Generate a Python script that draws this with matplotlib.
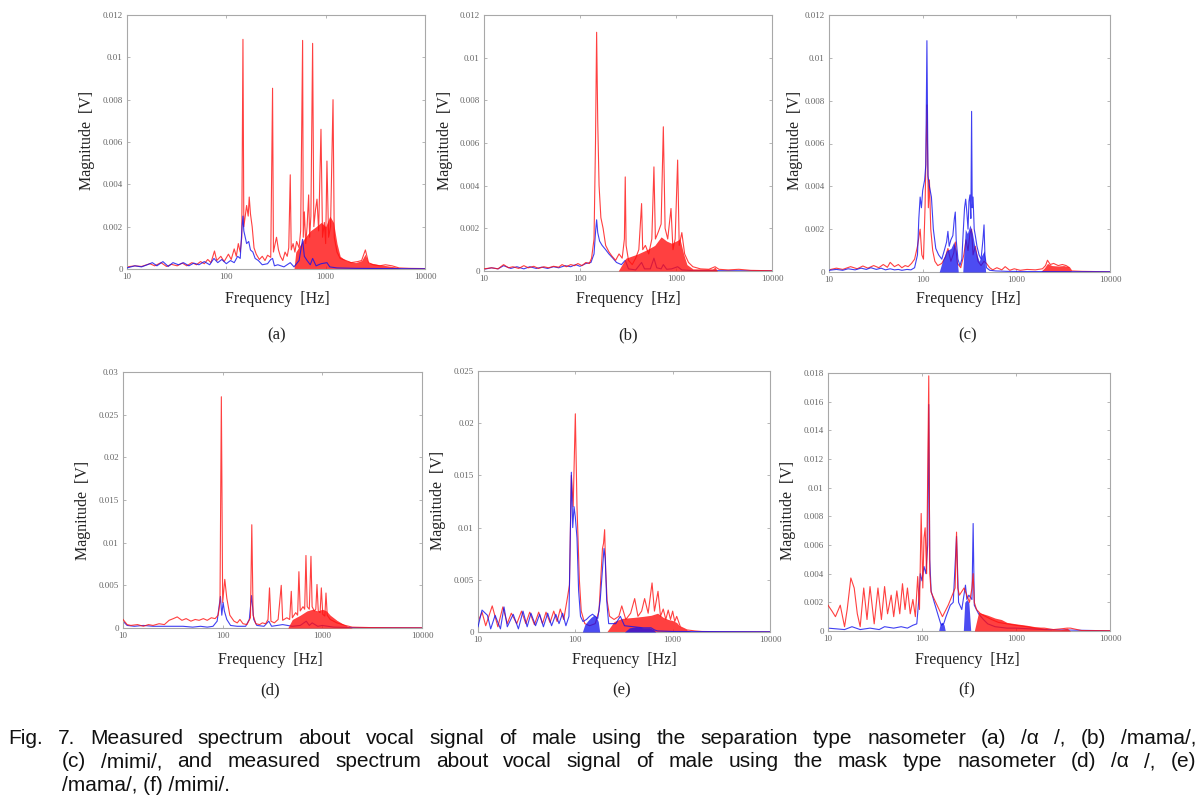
import matplotlib
matplotlib.use("Agg")
import matplotlib.pyplot as plt
from matplotlib.font_manager import FontProperties
from matplotlib.ticker import FixedLocator, FixedFormatter

# ---------------- DATA ----------------
# Panel (a)
a_red_f = [10, 12, 14, 17, 19, 22, 25, 28, 32, 36, 40, 45, 50, 55, 60, 65, 70, 76, 80, 88, 95, 105, 112, 120, 126, 132, 138, 143,
           147, 150, 155, 160, 166, 170, 175, 182, 190, 200, 215, 230, 245, 260, 280, 292, 298, 310, 320, 335, 350, 370, 390, 410,
           425, 440, 450, 470, 490, 510, 540, 560, 586, 595, 610, 630, 650, 674, 690, 710, 739, 760, 790, 818, 850, 897, 930, 970,
           1000, 1030, 1070, 1120, 1186, 1220, 1300, 1400, 1600, 1800, 2100, 2300, 2510, 2700, 3000, 3500, 4000, 4660, 5500, 7000, 10000]
a_red_m = [0.00010, 0.00015, 0.00012, 0.00025, 0.00015, 0.00030, 0.00012, 0.00022, 0.00015, 0.00028, 0.00015, 0.00030, 0.00020,
           0.00035, 0.00025, 0.00045, 0.00030, 0.00085, 0.00040, 0.00060, 0.00035, 0.00070, 0.00045, 0.00095, 0.00060, 0.00120,
           0.00080, 0.00150, 0.01085, 0.00200, 0.00250, 0.00300, 0.00250, 0.00340, 0.00260, 0.00200, 0.00100, 0.00070, 0.00045,
           0.00060, 0.00040, 0.00065, 0.00055, 0.00854, 0.00080, 0.00120, 0.00150, 0.00090, 0.00060, 0.00040, 0.00080, 0.00060,
           0.00100, 0.00445, 0.00090, 0.00120, 0.00080, 0.00130, 0.00100, 0.00180, 0.01080, 0.00150, 0.00270, 0.00120, 0.00200,
           0.00350, 0.00150, 0.00250, 0.01066, 0.00200, 0.00280, 0.00330, 0.00180, 0.00660, 0.00150, 0.00220, 0.00120, 0.00510,
           0.00150, 0.00200, 0.00800, 0.00150, 0.00080, 0.00050, 0.00040, 0.00030, 0.00035, 0.00040, 0.00090, 0.00030, 0.00020,
           0.00015, 0.00020, 0.00015, 0.00005, 0.00003, 0.00002]
a_red_band_f = [480, 500, 600, 700, 800, 900, 1000, 1100, 1200, 1300, 1400, 1600, 2000, 2300, 2500, 2700, 3500, 5000, 6000]
a_red_band_m = [0.0, 0.0008, 0.0014, 0.0018, 0.0020, 0.0022, 0.0020, 0.0025, 0.0022, 0.0012, 0.0006, 0.0004, 0.0003, 0.0004,
                0.0007, 0.0003, 0.0002, 0.0001, 0.0]
a_blue_f = [10, 12, 14, 16, 18, 20, 23, 26, 29, 33, 37, 42, 47, 53, 60, 68, 75, 82, 90, 100, 110, 120, 130, 138, 144, 147, 150,
            155, 160, 168, 175, 185, 195, 210, 230, 260, 280, 292, 305, 330, 380, 440, 480, 540, 586, 610, 650, 700, 739, 800,
            900, 1030, 1100, 1300, 2000, 10000]
a_blue_m = [0.00005, 0.00015, 0.00010, 0.00020, 0.00030, 0.00015, 0.00035, 0.00012, 0.00030, 0.00020, 0.00030, 0.00015, 0.00028,
            0.00020, 0.00035, 0.00020, 0.00050, 0.00030, 0.00045, 0.00025, 0.00040, 0.00030, 0.00060, 0.00050, 0.00200, 0.00250,
            0.00180, 0.00150, 0.00120, 0.00130, 0.00090, 0.00080, 0.00050, 0.00040, 0.00020, 0.00025, 0.00045, 0.00050, 0.00015,
            0.00020, 0.00010, 0.00030, 0.00010, 0.00040, 0.00140, 0.00060, 0.00040, 0.00020, 0.00050, 0.00015, 0.00025, 0.00030,
            0.00010, 0.00005, 0.00003, 0.00001]
a_blue_band_f = []
a_blue_band_m = []

# Panel (b)
b_red_f = [10, 12, 14, 16, 18, 20, 23, 26, 29, 33, 37, 42, 47, 53, 60, 65, 72, 80, 88, 95, 105, 115, 125, 132, 140, 145, 149,
           153, 158, 165, 174, 185, 200, 215, 235, 255, 275, 290, 296, 302, 320, 350, 380, 410, 438, 450, 480, 520, 560, 589,
           610, 650, 700, 738, 770, 820, 887, 930, 980, 1040, 1080, 1150, 1230, 1350, 1500, 1800, 2200, 2550, 2800, 3500, 4500,
           6000, 10000]
b_red_m = [0.00010, 0.00015, 0.00010, 0.00030, 0.00015, 0.00020, 0.00012, 0.00025, 0.00015, 0.00022, 0.00012, 0.00020, 0.00015,
           0.00022, 0.00018, 0.00030, 0.00020, 0.00030, 0.00025, 0.00035, 0.00025, 0.00040, 0.00035, 0.00060, 0.00150, 0.00600,
           0.01119, 0.00700, 0.00400, 0.00250, 0.00200, 0.00120, 0.00090, 0.00070, 0.00050, 0.00080, 0.00060, 0.00150, 0.00441,
           0.00120, 0.00050, 0.00030, 0.00060, 0.00100, 0.00316, 0.00100, 0.00120, 0.00080, 0.00150, 0.00488, 0.00150, 0.00180,
           0.00220, 0.00676, 0.00200, 0.00150, 0.00293, 0.00100, 0.00150, 0.00520, 0.00120, 0.00180, 0.00080, 0.00040, 0.00020,
           0.00010, 0.00008, 0.00020, 0.00008, 0.00005, 0.00008, 0.00003, 0.00001]
b_red_band_f = [250, 300, 400, 500, 600, 700, 800, 900, 1000, 1100, 1200, 1300, 1500, 2400, 2550, 2700]
b_red_band_m = [0.0, 0.0006, 0.0008, 0.0010, 0.0012, 0.0016, 0.0014, 0.0013, 0.0014, 0.0015, 0.0008, 0.0003, 0.0001, 0.0001,
                0.00018, 0.0]
b_blue_f = [10, 12, 14, 16, 19, 22, 26, 30, 35, 40, 46, 53, 60, 70, 80, 90, 100, 115, 130, 140, 145, 149, 153, 160, 170, 185,
            200, 220, 240, 270, 296, 320, 380, 438, 470, 540, 589, 630, 700, 738, 800, 900, 1040, 1150, 1500, 10000]
b_blue_m = [0.00008, 0.00015, 0.00010, 0.00025, 0.00012, 0.00020, 0.00010, 0.00020, 0.00012, 0.00018, 0.00012, 0.00020, 0.00015,
            0.00025, 0.00020, 0.00030, 0.00022, 0.00035, 0.00040, 0.00080, 0.00180, 0.00240, 0.00180, 0.00140, 0.00120, 0.00100,
            0.00080, 0.00060, 0.00040, 0.00030, 0.00050, 0.00010, 0.00005, 0.00040, 0.00010, 0.00010, 0.00060, 0.00015, 0.00010,
            0.00030, 0.00008, 0.00010, 0.00020, 0.00005, 0.00002, 0.00001]
b_blue_band_f = []
b_blue_band_m = []

# Panel (c)
c_red_f = [10, 12, 14, 17, 20, 23, 26, 30, 34, 38, 42, 45, 50, 55, 60, 65, 70, 76, 82, 88, 94, 98, 102, 106, 111, 115, 118, 122,
           128, 135, 145, 160, 175, 186, 200, 215, 223, 235, 255, 275, 290, 305, 320, 333, 345, 365, 390, 420, 452, 480, 520, 560,
           620, 700, 760, 850, 950, 1100, 1300, 1600, 1900, 2050, 2150, 2300, 2500, 2800, 3100, 3400, 3700, 3900, 5000, 10000]
c_red_m = [0.00010, 0.00018, 0.00012, 0.00025, 0.00015, 0.00028, 0.00018, 0.00030, 0.00020, 0.00035, 0.00022, 0.00045, 0.00025,
           0.00035, 0.00020, 0.00030, 0.00025, 0.00040, 0.00060, 0.00120, 0.00200, 0.00080, 0.00060, 0.00300, 0.00780, 0.00300,
           0.00430, 0.00200, 0.00100, 0.00050, 0.00030, 0.00040, 0.00070, 0.00110, 0.00050, 0.00090, 0.00140, 0.00040, 0.00020,
           0.00080, 0.00150, 0.00100, 0.00180, 0.00200, 0.00080, 0.00120, 0.00050, 0.00030, 0.00050, 0.00040, 0.00020, 0.00010,
           0.00020, 0.00010, 0.00025, 0.00008, 0.00015, 0.00008, 0.00012, 0.00010, 0.00015, 0.00030, 0.00055, 0.00035, 0.00040,
           0.00030, 0.00035, 0.00030, 0.00020, 0.00005, 0.00003, 0.00001]
c_red_band_f = [1800, 2000, 2150, 2400, 2800, 3200, 3600, 3900]
c_red_band_m = [0.0, 0.00020, 0.00040, 0.00030, 0.00028, 0.00030, 0.00025, 0.0]
c_blue_f = [10, 12, 14, 16, 19, 22, 25, 28, 32, 36, 40, 45, 50, 55, 60, 68, 75, 82, 88, 91, 94, 97, 100, 105, 108, 111, 114, 118,
            124, 130, 138, 148, 160, 170, 180, 186, 192, 200, 210, 218, 223, 228, 238, 250, 262, 272, 280, 288, 296, 305, 312,
            320, 327, 333, 338, 345, 355, 365, 380, 400, 420, 440, 452, 462, 480, 520, 600, 800, 1500, 10000]
c_blue_m = [0.00008, 0.00012, 0.00008, 0.00015, 0.00010, 0.00018, 0.00012, 0.00020, 0.00012, 0.00018, 0.00010, 0.00015, 0.00010,
            0.00012, 0.00008, 0.00012, 0.00010, 0.00020, 0.00080, 0.00250, 0.00350, 0.00300, 0.00380, 0.00430, 0.00500, 0.01080,
            0.00450, 0.00400, 0.00350, 0.00200, 0.00110, 0.00080, 0.00060, 0.00100, 0.00140, 0.00190, 0.00120, 0.00150, 0.00170,
            0.00250, 0.00280, 0.00150, 0.00060, 0.00030, 0.00060, 0.00200, 0.00300, 0.00340, 0.00280, 0.00200, 0.00330, 0.00360,
            0.00250, 0.00750, 0.00300, 0.00350, 0.00200, 0.00170, 0.00120, 0.00080, 0.00060, 0.00150, 0.00220, 0.00080, 0.00020,
            0.00008, 0.00005, 0.00003, 0.00002, 0.00001]
c_blue_band_f = [150, 165, 180, 200, 215, 228, 240, 268, 285, 300, 320, 340, 360, 380, 400, 430, 455, 470]
c_blue_band_m = [0.0, 0.0006, 0.0010, 0.0011, 0.0014, 0.0010, 0.0, 0.0, 0.0020, 0.0018, 0.0022, 0.0018, 0.0012, 0.0008, 0.0005,
                 0.0008, 0.0010, 0.0]

# Panel (d)
d_red_f = [10, 11, 12, 14, 16, 18, 20, 23, 26, 29, 32, 35, 39, 43, 48, 53, 58, 64, 70, 77, 84, 90, 94, 97, 100, 105, 110, 118,
           130, 140, 149, 160, 175, 190, 196, 202, 215, 235, 250, 270, 285, 295, 305, 330, 360, 387, 400, 440, 470, 488, 500,
           540, 565, 582, 600, 640, 665, 685, 705, 740, 769, 790, 830, 860, 884, 910, 950, 977, 1010, 1060, 1088, 1120, 1200,
           1400, 1700, 2000, 3000, 5000, 10000]
d_red_m = [0.0010, 0.0004, 0.0003, 0.0004, 0.0002, 0.0004, 0.0003, 0.0005, 0.0004, 0.0009, 0.0011, 0.0013, 0.0009, 0.0011,
           0.0008, 0.0010, 0.0009, 0.0011, 0.0009, 0.0012, 0.0011, 0.0015, 0.0030, 0.0271, 0.0030, 0.0057, 0.0035, 0.0015,
           0.0008, 0.0006, 0.0010, 0.0005, 0.0004, 0.0012, 0.0121, 0.0015, 0.0005, 0.0004, 0.0006, 0.0005, 0.0010, 0.0047,
           0.0008, 0.0006, 0.0010, 0.0050, 0.0009, 0.0012, 0.0010, 0.0043, 0.0012, 0.0018, 0.0015, 0.0066, 0.0020, 0.0025,
           0.0022, 0.0085, 0.0025, 0.0022, 0.0084, 0.0025, 0.0020, 0.0022, 0.0051, 0.0020, 0.0018, 0.0047, 0.0016, 0.0014,
           0.0041, 0.0015, 0.0010, 0.0006, 0.0003, 0.0001, 0.00005, 0.00003, 0.00002]
d_red_band_f = [450, 500, 600, 700, 800, 900, 1000, 1100, 1200, 1400, 1600, 1800, 2000]
d_red_band_m = [0.0, 0.0010, 0.0015, 0.0020, 0.0022, 0.0020, 0.0022, 0.0020, 0.0015, 0.0009, 0.0005, 0.0002, 0.0]
d_blue_f = [10, 11, 13, 16, 20, 25, 30, 40, 50, 60, 70, 80, 88, 92, 95, 98, 101, 104, 110, 120, 140, 170, 185, 195, 205, 220,
            260, 290, 310, 400, 500, 600, 690, 740, 790, 900, 1000, 1300, 2000, 10000]
d_blue_m = [0.0008, 0.0003, 0.0002, 0.0003, 0.0002, 0.0002, 0.0002, 0.0002, 0.0001, 0.0002, 0.0001, 0.0002, 0.0008, 0.0025,
            0.0037, 0.0015, 0.0030, 0.0020, 0.0010, 0.0003, 0.0002, 0.0002, 0.0010, 0.0038, 0.0010, 0.0003, 0.0002, 0.0008,
            0.0002, 0.0004, 0.0002, 0.0003, 0.0008, 0.0003, 0.0006, 0.0002, 0.0003, 0.0001, 0.00005, 0.00002]
d_blue_band_f = []
d_blue_band_m = []

# Panel (e)
e_red_f = [10, 11, 12, 14, 16, 18, 20, 22, 25, 28, 31, 34, 38, 42, 46, 50, 55, 60, 65, 70, 76, 82, 87, 91, 95, 100, 104, 110,
           115, 125, 140, 160, 175, 183, 190, 195, 200, 205, 212, 225, 250, 280, 300, 330, 370, 407, 440, 480, 515, 560, 614,
           650, 707, 750, 800, 850, 900, 950, 1000, 1050, 1100, 1200, 1400, 1700, 2000, 3000, 10000]
e_red_m = [0.0010, 0.0019, 0.0006, 0.0025, 0.0005, 0.0024, 0.0008, 0.0018, 0.0008, 0.0020, 0.0008, 0.0019, 0.0007, 0.0019,
           0.0008, 0.0019, 0.0009, 0.0020, 0.0010, 0.0022, 0.0012, 0.0030, 0.0045, 0.0150, 0.0120, 0.0209, 0.0120, 0.0050,
           0.0020, 0.0008, 0.0006, 0.0008, 0.0020, 0.0053, 0.0080, 0.0085, 0.0098, 0.0060, 0.0030, 0.0015, 0.0012, 0.0015,
           0.0025, 0.0012, 0.0018, 0.0032, 0.0015, 0.0020, 0.0032, 0.0018, 0.0047, 0.0020, 0.0039, 0.0015, 0.0022, 0.0012,
           0.0021, 0.0012, 0.0020, 0.0010, 0.0015, 0.0005, 0.0002, 0.0001, 0.00005, 0.00003, 0.00002]
e_red_band_f = [210, 250, 300, 400, 500, 600, 700, 800, 900, 1000, 1100, 1200, 1400, 1600]
e_red_band_m = [0.0, 0.0010, 0.0013, 0.0014, 0.0015, 0.0016, 0.0018, 0.0014, 0.0012, 0.0011, 0.0009, 0.0005, 0.0002, 0.0]
e_blue_f = [10, 11, 12.5, 13.5, 15, 17, 18.5, 20, 23, 26, 29, 32, 35, 39, 43, 47, 52, 57, 63, 68, 74, 80, 86, 91, 94, 97, 100,
            104, 108, 113, 120, 130, 140, 150, 160, 170, 180, 190, 197, 203, 210, 220, 260, 290, 320, 400, 500, 600, 650, 700,
            1000, 10000]
e_blue_m = [0.0005, 0.0021, 0.0016, 0.0003, 0.0016, 0.0003, 0.0024, 0.0005, 0.0017, 0.0003, 0.0020, 0.0005, 0.0018, 0.0006,
            0.0017, 0.0005, 0.0018, 0.0006, 0.0017, 0.0008, 0.0018, 0.0006, 0.0015, 0.0153, 0.0100, 0.0120, 0.0110, 0.0090,
            0.0040, 0.0015, 0.0010, 0.0012, 0.0015, 0.0017, 0.0015, 0.0013, 0.0030, 0.0060, 0.0080, 0.0070, 0.0030, 0.0008,
            0.0008, 0.0015, 0.0006, 0.0005, 0.0004, 0.0004, 0.0002, 0.0001, 0.00005, 0.00002]
e_blue_band_f = [118, 125, 135, 145, 155, 165, 172, 178, 320, 360, 420, 500, 580, 640, 670]
e_blue_band_m = [0.0, 0.0007, 0.0011, 0.0014, 0.0016, 0.0014, 0.0010, 0.0, 0.0, 0.0004, 0.0005, 0.0004, 0.0004, 0.0002, 0.0]

# Panel (f)
f_red_f = [10, 11, 12, 13.5, 15, 16, 17.5, 19, 20.5, 22, 24, 26, 28, 31, 34, 37, 40, 43, 47, 50, 54, 58, 62, 66, 70, 75, 80, 85,
           90, 94, 98, 102, 105, 108, 112, 118, 121, 125, 140, 165, 190, 210, 225, 233, 240, 250, 280, 300, 320, 340, 350, 360,
           380, 420, 480, 550, 650, 800, 1000, 1300, 1600, 2000, 2500, 3000, 3500, 3800, 5000, 10000]
f_red_m = [0.0018, 0.0014, 0.0010, 0.0018, 0.0003, 0.0015, 0.0037, 0.0030, 0.0012, 0.0003, 0.0030, 0.0008, 0.0031, 0.0005,
           0.0030, 0.0008, 0.0031, 0.0012, 0.0025, 0.0010, 0.0028, 0.0012, 0.0033, 0.0015, 0.0030, 0.0012, 0.0022, 0.0010,
           0.0038, 0.0015, 0.0082, 0.0030, 0.0065, 0.0072, 0.0040, 0.0178, 0.0040, 0.0027, 0.0020, 0.0010, 0.0018, 0.0025,
           0.0030, 0.0069, 0.0030, 0.0025, 0.0030, 0.0025, 0.0020, 0.0030, 0.0040, 0.0020, 0.0015, 0.0012, 0.0010, 0.0008,
           0.0006, 0.0005, 0.0004, 0.0003, 0.0002, 0.0002, 0.0001, 0.00015, 0.0002, 0.0002, 0.00003, 0.00002]
f_red_band_f = [360, 400, 500, 600, 700, 800, 1000, 1300, 1600, 2000, 2400, 3000, 3500, 3800]
f_red_band_m = [0.0, 0.0013, 0.0011, 0.0009, 0.0008, 0.0006, 0.0005, 0.0004, 0.0003, 0.0002, 0.0001, 0.0001, 0.0002, 0.0]
f_blue_f = [10, 15, 18, 22, 28, 35, 40, 50, 60, 70, 80, 88, 92, 96, 100, 105, 110, 115, 118, 121, 125, 135, 150, 160, 170, 180,
            200, 215, 233, 245, 265, 290, 300, 315, 340, 350, 360, 400, 450, 500, 600, 800, 1000, 2000, 10000]
f_blue_m = [0.0002, 0.0001, 0.0003, 0.0001, 0.0002, 0.0001, 0.0003, 0.0002, 0.0003, 0.0002, 0.0004, 0.0005, 0.0020, 0.0040,
            0.0035, 0.0045, 0.0040, 0.0060, 0.0158, 0.0050, 0.0028, 0.0020, 0.0010, 0.0004, 0.0005, 0.0010, 0.0018, 0.0020,
            0.0066, 0.0020, 0.0015, 0.0032, 0.0022, 0.0025, 0.0022, 0.0075, 0.0018, 0.0012, 0.0008, 0.0005, 0.0003, 0.0002,
            0.0002, 0.0001, 0.00001]
f_blue_band_f = [150, 155, 160, 166, 172, 177, 275, 285, 300, 315, 330]
f_blue_band_m = [0.0, 0.0004, 0.0006, 0.0006, 0.0004, 0.0, 0.0, 0.0020, 0.0022, 0.0020, 0.0]

# Axis settings
top_yticks = [0, 0.002, 0.004, 0.006, 0.008, 0.01, 0.012]
top_ylabels = ["0", "0.002", "0.004", "0.006", "0.008", "0.01", "0.012"]
d_yticks = [0, 0.005, 0.01, 0.015, 0.02, 0.025, 0.03]
d_ylabels = ["0", "0.005", "0.01", "0.015", "0.02", "0.025", "0.03"]
e_yticks = [0, 0.005, 0.01, 0.015, 0.02, 0.025]
e_ylabels = ["0", "0.005", "0.01", "0.015", "0.02", "0.025"]
f_yticks = [0, 0.002, 0.004, 0.006, 0.008, 0.01, 0.012, 0.014, 0.016, 0.018]
f_ylabels = ["0", "0.002", "0.004", "0.006", "0.008", "0.01", "0.012", "0.014", "0.016", "0.018"]
xticks = [10, 100, 1000, 10000]
xticklabels = ["10", "100", "1000", "10000"]
panel_tags = ["(a)", "(b)", "(c)", "(d)", "(e)", "(f)"]
xlabel_text = "Frequency  [Hz]"
ylabel_text = "Magnitude  [V]"
caption_lines = [
    "Fig. 7. Measured spectrum about vocal signal of male using the separation type nasometer (a)  /\u03b1 /, (b) /mama/,",
    "(c) /mimi/, and measured spectrum about vocal signal of male using the mask type nasometer (d) /\u03b1 /, (e)",
    "/mama/, (f) /mimi/.",
]

# ---------------- FIGURE ----------------
W, H = 1204, 809
fig = plt.figure(figsize=(W / 100, H / 100), dpi=100)
fig.patch.set_facecolor("white")

SERIF = ["Liberation Serif", "DejaVu Serif"]
CAP_FP = FontProperties(family=["Liberation Sans", "DejaVu Sans"])

RED = "#ff1010"
BLUE = "#1010ee"


def ax_at(l, t, r, b):
    return fig.add_axes([l / W, 1 - b / H, (r - l) / W, (b - t) / H])


def ftext(x, y, s, **kw):
    return fig.text(x / W, 1 - y / H, s, **kw)


panels = [
    ((127, 15, 425, 269), 0.012, top_yticks, top_ylabels,
     (a_red_f, a_red_m, a_red_band_f, a_red_band_m, a_blue_f, a_blue_m, a_blue_band_f, a_blue_band_m), True,
     (87, 140), (277, 299), (277, 335)),
    ((484, 15, 772, 271), 0.012, top_yticks, top_ylabels,
     (b_red_f, b_red_m, b_red_band_f, b_red_band_m, b_blue_f, b_blue_m, b_blue_band_f, b_blue_band_m), False,
     (445, 140), (628, 299), (628, 335)),
    ((829, 15, 1110, 272), 0.012, top_yticks, top_ylabels,
     (c_red_f, c_red_m, c_red_band_f, c_red_band_m, c_blue_f, c_blue_m, c_blue_band_f, c_blue_band_m), True,
     (795, 140), (968, 299), (968, 335)),
    ((123, 372, 422, 628), 0.03, d_yticks, d_ylabels,
     (d_red_f, d_red_m, d_red_band_f, d_red_band_m, d_blue_f, d_blue_m, d_blue_band_f, d_blue_band_m), False,
     (83, 510), (270, 660), (270, 690)),
    ((478, 371, 770, 632), 0.025, e_yticks, e_ylabels,
     (e_red_f, e_red_m, e_red_band_f, e_red_band_m, e_blue_f, e_blue_m, e_blue_band_f, e_blue_band_m), True,
     (438, 500), (624, 660), (622, 690)),
    ((828, 373, 1110, 631), 0.018, f_yticks, f_ylabels,
     (f_red_f, f_red_m, f_red_band_f, f_red_band_m, f_blue_f, f_blue_m, f_blue_band_f, f_blue_band_m), False,
     (788, 510), (967, 660), (967, 690)),
]

for i, (box, ytop, yt, yl, data, blue_top, ylp, xlp, tagp) in enumerate(panels):
    ax = ax_at(*box)
    rf, rm, rbf, rbm, bf, bm, bbf, bbm = data

    def draw_red(z):
        if rbf:
            ax.fill_between(rbf, 0, rbm, color=RED, alpha=0.8, lw=0, zorder=z)
        ax.plot(rf, rm, color=RED, lw=0.8, alpha=0.8, zorder=z + 0.5)

    def draw_blue(z):
        if bbf:
            ax.fill_between(bbf, 0, bbm, color=BLUE, alpha=0.75, lw=0, zorder=z)
        ax.plot(bf, bm, color=BLUE, lw=0.8, alpha=0.8, zorder=z + 0.5)

    if blue_top:
        draw_red(2)
        draw_blue(3)
    else:
        draw_blue(2)
        draw_red(3)

    ax.set_xscale("log")
    ax.set_xlim(10, 10000)
    ax.set_ylim(0, ytop)
    ax.xaxis.set_major_locator(FixedLocator(xticks))
    ax.xaxis.set_major_formatter(FixedFormatter(xticklabels))
    ax.xaxis.set_minor_locator(FixedLocator([]))
    ax.yaxis.set_major_locator(FixedLocator(yt))
    ax.yaxis.set_major_formatter(FixedFormatter(yl))
    for sp in ax.spines.values():
        sp.set_color("#a8a8a8")
        sp.set_linewidth(0.8)
    ax.tick_params(axis="both", which="major", direction="in", length=2, width=0.5, color="#999999",
                   labelsize=6.5, labelcolor="#666666", pad=3, top=True, right=True)
    for lab in ax.get_xticklabels() + ax.get_yticklabels():
        lab.set_family(SERIF)

    ftext(ylp[0], ylp[1], ylabel_text, rotation=90, ha="center", va="center", fontsize=11.5, family=SERIF, color="#222222")
    ftext(xlp[0], xlp[1], xlabel_text, ha="center", va="center", fontsize=11.5, family=SERIF, color="#222222")
    ftext(tagp[0], tagp[1], panel_tags[i], ha="center", va="center", fontsize=12, family=SERIF, color="#222222")

# ---------------- CAPTION (justified) ----------------
renderer = fig.canvas.get_renderer()
cap_fs = 15.0


def place_line(text, x0, x1, y, justify):
    if not justify:
        ftext(x0, y, text, ha="left", va="baseline", fontproperties=CAP_FP, fontsize=cap_fs, color="#111111")
        return
    words = [w for w in text.split(" ") if w]
    objs = [ftext(0, y, w, ha="left", va="baseline", fontproperties=CAP_FP, fontsize=cap_fs, color="#111111")
            for w in words]
    widths = [o.get_window_extent(renderer=renderer).width for o in objs]
    gap = (x1 - x0 - sum(widths)) / (len(words) - 1)
    x = x0
    for o, w in zip(objs, widths):
        o.set_x(x / W)
        x += w + gap


place_line(caption_lines[0], 8, 1196, 744, True)
place_line(caption_lines[1], 62, 1196, 767, True)
place_line(caption_lines[2], 62, 1196, 791, False)

fig.savefig("out.png", dpi=100, facecolor="white")
